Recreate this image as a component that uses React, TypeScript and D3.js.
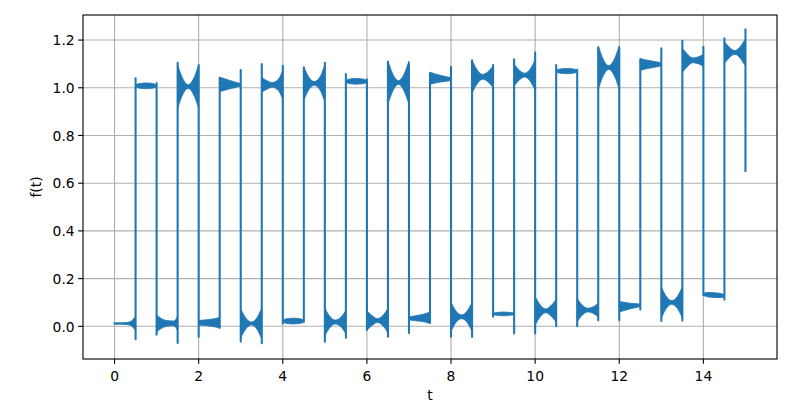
import React from 'react';
import * as d3 from 'd3';

// ---- data ----
// each half-period segment k spans t in [k/2, (k+1)/2]; even k = low, odd k = high
const levelStart = [0.012, 1.008, 0.012, 1.005, 0.015, 1.014, 0.012, 1.012, 0.022, 1.018, 0.018, 1.027, 0.024, 1.022, 0.033, 1.040, 0.040, 1.046, 0.052, 1.053, 0.065, 1.070, 0.068, 1.085, 0.082, 1.098, 0.100, 1.115, 0.134, 1.148];
const levelEnd = [0.012, 1.008, 0.012, 1.005, 0.015, 1.012, 0.012, 1.012, 0.022, 1.018, 0.018, 1.027, 0.024, 1.022, 0.036, 1.036, 0.040, 1.046, 0.052, 1.053, 0.065, 1.070, 0.068, 1.085, 0.088, 1.098, 0.100, 1.115, 0.128, 1.148];
// oscillation half-widths at fractions 0, 0.05, 0.2, 0.5, 0.8, 0.95, 1 of each segment
const envFractions = [0, 0.05, 0.2, 0.5, 0.8, 0.95, 1];
const envAt000 = [0.002, 0.003, 0.035, 0.090, 0.010, 0.030, 0.060, 0.030, 0.003, 0.070, 0.060, 0.003, 0.040, 0.090, 0.006, 0.025, 0.060, 0.070, 0.003, 0.045, 0.060, 0.003, 0.050, 0.090, 0.022, 0.025, 0.065, 0.050, 0.004, 0.045];
const envAt005 = [0.002, 0.006, 0.032, 0.078, 0.010, 0.029, 0.052, 0.028, 0.006, 0.060, 0.050, 0.006, 0.036, 0.078, 0.007, 0.024, 0.052, 0.060, 0.004, 0.040, 0.052, 0.006, 0.042, 0.078, 0.021, 0.024, 0.056, 0.045, 0.006, 0.040];
const envAt020 = [0.002, 0.010, 0.022, 0.042, 0.011, 0.025, 0.028, 0.020, 0.010, 0.032, 0.028, 0.010, 0.024, 0.042, 0.009, 0.020, 0.028, 0.035, 0.006, 0.025, 0.030, 0.009, 0.025, 0.042, 0.018, 0.020, 0.030, 0.030, 0.009, 0.025];
const envAt050 = [0.003, 0.012, 0.012, 0.008, 0.014, 0.017, 0.006, 0.010, 0.012, 0.008, 0.008, 0.012, 0.008, 0.008, 0.013, 0.014, 0.008, 0.010, 0.008, 0.008, 0.008, 0.011, 0.008, 0.008, 0.012, 0.015, 0.008, 0.010, 0.010, 0.008];
const envAt080 = [0.010, 0.010, 0.010, 0.042, 0.018, 0.010, 0.028, 0.025, 0.010, 0.032, 0.024, 0.010, 0.026, 0.042, 0.018, 0.009, 0.028, 0.025, 0.006, 0.030, 0.026, 0.009, 0.016, 0.042, 0.008, 0.010, 0.030, 0.016, 0.009, 0.030];
const envAt095 = [0.025, 0.006, 0.022, 0.078, 0.022, 0.007, 0.055, 0.050, 0.006, 0.065, 0.042, 0.006, 0.045, 0.078, 0.023, 0.007, 0.052, 0.040, 0.004, 0.055, 0.042, 0.006, 0.026, 0.078, 0.006, 0.007, 0.056, 0.023, 0.006, 0.050];
const envAt100 = [0.030, 0.003, 0.030, 0.090, 0.025, 0.006, 0.065, 0.060, 0.003, 0.075, 0.050, 0.003, 0.055, 0.090, 0.025, 0.006, 0.060, 0.045, 0.003, 0.065, 0.048, 0.003, 0.032, 0.090, 0.005, 0.006, 0.065, 0.027, 0.005, 0.055];
// overshoot extremes right after / right before each jump
const spikeStart = [0.012, 1.040, -0.035, 1.105, -0.045, 1.042, -0.064, 1.099, 0.012, 1.085, -0.065, 1.057, -0.015, 1.110, -0.028, 1.063, -0.044, 1.115, 0.040, 1.119, -0.030, 1.095, 0.000, 1.168, 0.026, 1.119, 0.022, 1.197, 0.130, 1.207];
const spikeEnd = [-0.054, 1.020, -0.070, 1.095, -0.005, 1.074, -0.071, 1.092, 0.018, 1.105, -0.048, 1.035, -0.044, 1.100, 0.015, 1.088, -0.045, 1.095, -0.030, 1.148, 0.000, 1.075, 0.025, 1.168, 0.070, 1.165, 0.024, 1.172, 0.112, 1.245];
const finalValue = 0.651;
const segmentLength = 0.5;

const xTicks = [0, 2, 4, 6, 8, 10, 12, 14];
const yTicks = [0.0, 0.2, 0.4, 0.6, 0.8, 1.0, 1.2];

const W = 800;
const H = 409;
const L = 83, R = 777, T = 15, B = 359;
const COLOR = '#1f77b4';
const FONT = 'DejaVu Sans, sans-serif';

export default function App() {
  const x = d3.scaleLinear().domain([-0.75, 15.75]).range([L, R]);
  const y = d3.scaleLinear().domain([-0.137, 1.305]).range([B, T]);

  const envWidths = [envAt000, envAt005, envAt020, envAt050, envAt080, envAt095, envAt100];

  const area = d3
    .area<{ t: number; c: number; w: number }>()
    .x((d) => x(d.t))
    .y0((d) => y(d.c - d.w))
    .y1((d) => y(d.c + d.w))
    .curve(d3.curveMonotoneX);

  const areas = levelStart.map((cs, k) => {
    const t0 = k * segmentLength;
    const pts = envFractions.map((f, i) => ({
      t: t0 + f * segmentLength,
      c: cs + (levelEnd[k] - cs) * f,
      w: envWidths[i][k],
    }));
    return area(pts) as string;
  });

  const linePts: [number, number][] = [];
  levelStart.forEach((cs, k) => {
    const t0 = k * segmentLength;
    const t1 = t0 + segmentLength;
    if (k > 0) linePts.push([t0, spikeStart[k]]);
    linePts.push([t0, cs]);
    linePts.push([t1, levelEnd[k]]);
    linePts.push([t1, spikeEnd[k]]);
  });
  linePts.push([levelStart.length * segmentLength, finalValue]);

  const line = d3
    .line<[number, number]>()
    .x((d) => x(d[0]))
    .y((d) => y(d[1]));

  return (
    <svg width={W} height={H} style={{ display: 'block', position: 'absolute', left: 0, top: 0 }}>
      <rect x={0} y={0} width={W} height={H} fill="#fff" />
      <defs>
        <clipPath id="plotclip">
          <rect x={L} y={T} width={R - L} height={B - T} />
        </clipPath>
      </defs>
      {xTicks.map((v) => (
        <line key={'gx' + v} x1={x(v)} x2={x(v)} y1={T} y2={B} stroke="#b0b0b0" strokeWidth={0.8 * 1.389} />
      ))}
      {yTicks.map((v) => (
        <line key={'gy' + v} x1={L} x2={R} y1={y(v)} y2={y(v)} stroke="#b0b0b0" strokeWidth={0.8 * 1.389} />
      ))}
      <g clipPath="url(#plotclip)">
        {areas.map((d, k) => (
          <path key={'a' + k} d={d} fill={COLOR} stroke={COLOR} strokeWidth={0.8} />
        ))}
        <path d={line(linePts) as string} fill="none" stroke={COLOR} strokeWidth={2.08} strokeLinejoin="round" strokeLinecap="square" />
      </g>
      <rect x={L} y={T} width={R - L} height={B - T} fill="none" stroke="#000" strokeWidth={1.11} />
      {xTicks.map((v) => (
        <g key={'xt' + v}>
          <line x1={x(v)} x2={x(v)} y1={B} y2={B + 4.86} stroke="#000" strokeWidth={1.11} />
          <text x={x(v)} y={381} textAnchor="middle" fontFamily={FONT} fontSize={13.89} fill="#000">
            {String(v)}
          </text>
        </g>
      ))}
      {yTicks.map((v) => (
        <g key={'yt' + v}>
          <line x1={L - 4.86} x2={L} y1={y(v)} y2={y(v)} stroke="#000" strokeWidth={1.11} />
          <text x={L - 8.3} y={y(v) + 5.3} textAnchor="end" fontFamily={FONT} fontSize={13.89} fill="#000">
            {v.toFixed(1)}
          </text>
        </g>
      ))}
      <text x={(L + R) / 2} y={400} textAnchor="middle" fontFamily={FONT} fontSize={13.89} fill="#000">
        t
      </text>
      <text
        transform={`translate(41, ${(T + B) / 2}) rotate(-90)`}
        textAnchor="middle"
        fontFamily={FONT}
        fontSize={13.89}
        fill="#000"
      >
        f(t)
      </text>
    </svg>
  );
}
